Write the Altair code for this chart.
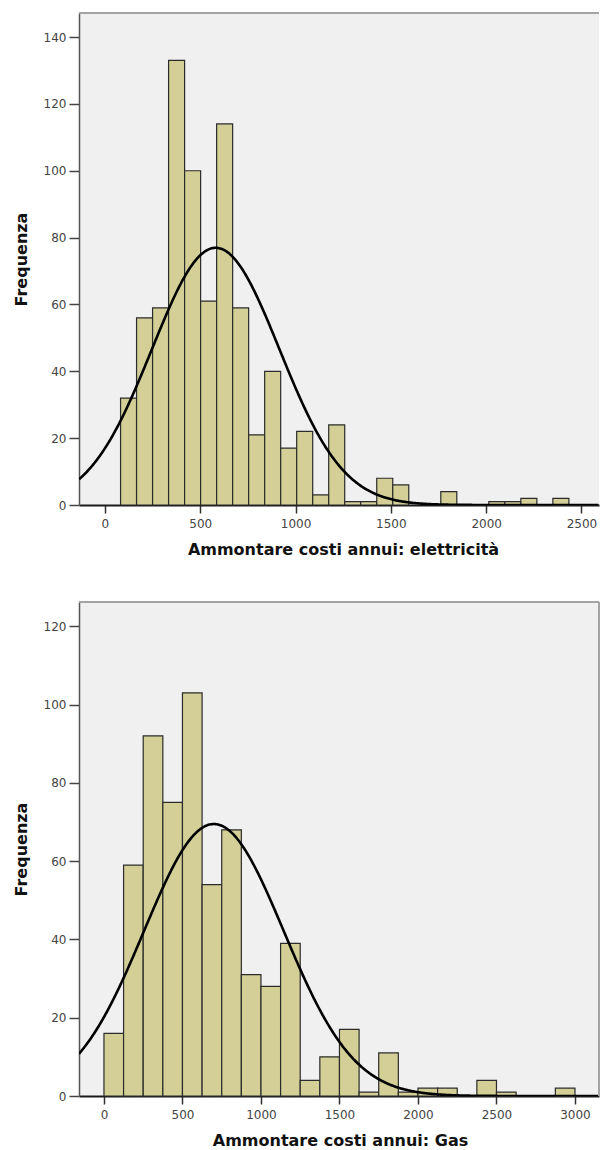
import altair as alt
import pandas as pd

# ---- data ----
# Electricity histogram
elec_counts = [32, 56, 59, 133, 100, 61, 114, 59, 21, 40, 17, 22, 3, 24, 1, 1, 8, 6, 0, 0, 4, 0, 0, 1, 1, 2, 0, 2]
elec_bin_start = 82
elec_bin_width = 84
elec_mean = 581
elec_sd = 334

# Gas histogram
gas_counts = [16, 59, 92, 75, 103, 54, 68, 31, 28, 39, 4, 10, 17, 1, 11, 1, 2, 2, 0, 4, 1, 0, 0, 2]
gas_bin_start = 0
gas_bin_width = 125
gas_mean = 700
gas_sd = 445

elec_xticks = [0, 500, 1000, 1500, 2000, 2500]
gas_xticks = [0, 500, 1000, 1500, 2000, 2500, 3000]
elec_yticks = [0, 20, 40, 60, 80, 100, 120, 140]
gas_yticks = [0, 20, 40, 60, 80, 100, 120]

elec_xdomain = [-136, 2592]
gas_xdomain = [-159, 3153]
elec_ydomain = [0, 147.2]
gas_ydomain = [0, 126.2]

BAR_FILL = "#D3CF97"
BAR_STROKE = "#2b2b2b"
FRAME = "#A4A4A4"
FONT = "DejaVu Sans"


def bins_df(counts, start, width):
    return pd.DataFrame({
        "x0": [start + i * width for i in range(len(counts))],
        "x1": [start + (i + 1) * width for i in range(len(counts))],
        "count": counts,
    })


def panel(counts, start, width, mean, sd, xdom, ydom, xticks, yticks, xtitle,
          w, h, right_border, title_x):
    df = bins_df(counts, start, width)
    n = sum(counts)
    xscale = alt.Scale(domain=xdom, nice=False, zero=False)
    yscale = alt.Scale(domain=ydom, nice=False)
    xaxis = alt.Axis(values=xticks, format="d", title=xtitle, grid=False,
                     tickSize=8, tickWidth=1.5, tickColor="#333",
                     domainColor="#1a1a1a", domainWidth=2,
                     labelPadding=5, titlePadding=12, titleX=title_x)
    yaxis = alt.Axis(values=yticks, format="d", title="Frequenza", grid=False,
                     tickSize=10, tickWidth=1.5, tickColor="#444",
                     domainColor="#555", domainWidth=1.5,
                     labelPadding=3, titlePadding=14)
    bars = alt.Chart(df).transform_filter("datum.count > 0").mark_rect(
        fill=BAR_FILL, stroke=BAR_STROKE, strokeWidth=1.2
    ).encode(
        x=alt.X("x0:Q", scale=xscale, axis=xaxis),
        x2="x1:Q",
        y=alt.Y("count:Q", scale=yscale, axis=yaxis),
        y2=alt.datum(0),
    )
    curve = alt.Chart(alt.sequence(xdom[0], xdom[1] + 1, 5, as_="xv")).transform_calculate(
        yv=f"{n} * {width} * densityNormal(datum.xv, {mean}, {sd})"
    ).mark_line(color="#000", strokeWidth=2.6, clip=True).encode(
        x=alt.X("xv:Q", scale=xscale),
        y=alt.Y("yv:Q", scale=yscale),
    )
    one = pd.DataFrame({"k": [0]})
    top_border = alt.Chart(one).mark_rule(color=FRAME, strokeWidth=2).encode(
        x=alt.value(0), x2=alt.value(w), y=alt.value(0)
    )
    layers = [bars, curve, top_border]
    if right_border:
        layers.append(alt.Chart(one).mark_rule(color=FRAME, strokeWidth=2).encode(
            x=alt.value(w), y=alt.value(0), y2=alt.value(h)
        ))
    return alt.layer(*layers).properties(width=w, height=h)


top = panel(elec_counts, elec_bin_start, elec_bin_width, elec_mean, elec_sd,
            elec_xdomain, elec_ydomain, elec_xticks, elec_yticks,
            "Ammontare costi annui: elettricità", 520, 492, False, 264)
bottom = panel(gas_counts, gas_bin_start, gas_bin_width, gas_mean, gas_sd,
               gas_xdomain, gas_ydomain, gas_xticks, gas_yticks,
               "Ammontare costi annui: Gas", 520, 494, True, 261)

chart = alt.vconcat(top, bottom, spacing=44).properties(
    padding={"left": 5, "top": 4, "right": 0, "bottom": 0},
    background="white",
).configure_view(
    stroke="transparent", strokeWidth=0, fill="#F0F0F0"
).configure_axis(
    labelFont=FONT, labelFontSize=12, labelColor="#444",
    titleFont=FONT, titleFontSize=16, titleFontWeight="bold", titleColor="#111",
)

chart.save("out.html", embed_options={"renderer": "svg", "actions": False})
